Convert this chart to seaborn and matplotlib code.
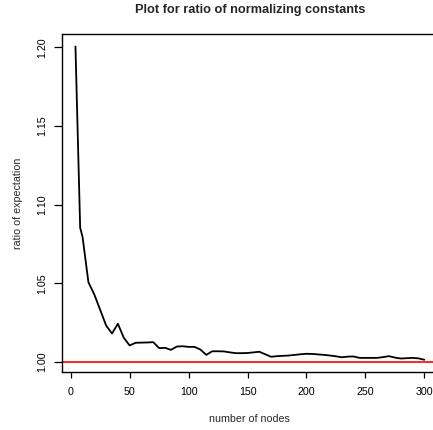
import matplotlib
matplotlib.use("Agg")
import matplotlib.pyplot as plt
import pandas as pd
import seaborn as sns

nodes = [4, 8, 10, 15, 20, 25, 30, 35, 40, 45, 50, 55, 60, 65, 70, 75, 80, 85, 90, 95,
         100, 105, 110, 115, 120, 125, 130, 135, 140, 145, 150, 155, 160, 165, 170,
         175, 180, 185, 190, 195, 200, 205, 210, 215, 220, 225, 230, 235, 240, 245,
         250, 255, 260, 265, 270, 275, 280, 285, 290, 295, 300]
ratio = [1.2005, 1.0852, 1.0795, 1.0506, 1.0428, 1.0330, 1.0231, 1.0180, 1.0242, 1.0153,
         1.0104, 1.0121, 1.0122, 1.0123, 1.0125, 1.0087, 1.0089, 1.0076, 1.0097, 1.0099,
         1.0095, 1.0095, 1.0078, 1.0044, 1.0067, 1.0067, 1.0066, 1.0060, 1.0055, 1.0055,
         1.0056, 1.0060, 1.0064, 1.0048, 1.0032, 1.0036, 1.0038, 1.0040, 1.0044, 1.0048,
         1.0051, 1.0050, 1.0047, 1.0044, 1.0040, 1.0035, 1.0029, 1.0033, 1.0034, 1.0025,
         1.0025, 1.0025, 1.0025, 1.0030, 1.0036, 1.0027, 1.0021, 1.0023, 1.0025, 1.0022,
         1.0013]
reference_level = 1.0

x_ticks = [0, 50, 100, 150, 200, 250, 300]
y_ticks = [1.00, 1.05, 1.10, 1.15, 1.20]

df = pd.DataFrame({"nodes": nodes, "ratio": ratio})

sns.set_style("ticks")
plt.rcParams["font.family"] = ["Liberation Sans", "DejaVu Sans"]
base = 7.7

fig = plt.figure(figsize=(4.33, 4.30), dpi=100)
ax = fig.add_axes([61.5 / 433, 1 - 372.3 / 430, 376.8 / 433, 338.3 / 430])

sns.lineplot(data=df, x="nodes", y="ratio", color="black", linewidth=1.3, ax=ax)
ax.axhline(reference_level, color="red", linewidth=1.2)

# R style 4% padding around data range
xr = max(nodes) - min(nodes)
yr = max(ratio) - min(ratio)
ax.set_xlim(min(nodes) - 0.04 * xr, max(nodes) + 0.04 * xr)
ax.set_ylim(min(ratio) - 0.04 * yr, max(ratio) + 0.04 * yr)

ax.set_xticks(x_ticks)
ax.set_xticklabels([str(t) for t in x_ticks], fontsize=base)
ax.set_yticks(y_ticks)
ax.set_yticklabels([f"{t:.2f}" for t in y_ticks], fontsize=base, rotation=90, va="center")
ax.tick_params(axis="x", length=4.5, width=0.9, pad=6, colors="black")
ax.tick_params(axis="y", length=5.5, width=0.9, pad=4.8, colors="black")

for s in ax.spines.values():
    s.set_visible(True)
    s.set_color("black")
    s.set_linewidth(1.0)

ax.set_xlabel("number of nodes", fontsize=base, labelpad=12)
ax.set_ylabel("ratio of expectation", fontsize=base, labelpad=10.5)
ax.set_title("Plot for ratio of normalizing constants", fontsize=9.2,
             fontweight="bold", pad=14.9)

fig.savefig("out.png", dpi=100)
